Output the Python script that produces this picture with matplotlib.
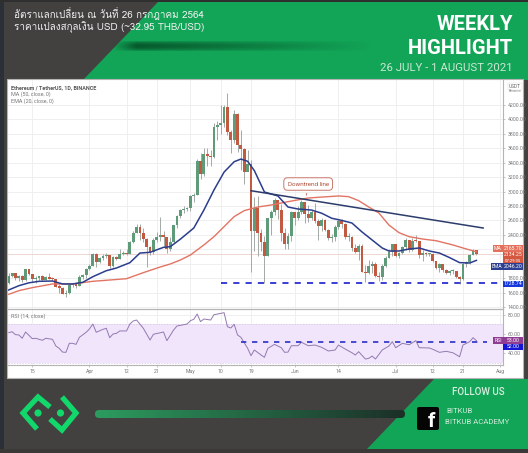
import numpy as np
import matplotlib
matplotlib.use("Agg")
import matplotlib.pyplot as plt
from matplotlib import font_manager as fm
from matplotlib.ft2font import FT2Font
from matplotlib.patches import Polygon, Rectangle, FancyBboxPatch, Circle

# ---- daily candles: day number counted from 1 March 2021 ----
first_day = 7
opens = [1730, 1835, 1870, 1795, 1825, 1770, 1925, 1855, 1793, 1806, 1823, 1780, 1810, 1787, 1783, 1680, 1670, 1585, 1590, 1700, 1715, 1690, 1815, 1846,
         1920, 1970, 2135, 2025, 2080, 2110, 2115, 1965, 2090, 2070, 2135, 2150, 2140, 2300, 2430, 2515, 2420, 2345, 2235, 2165, 2330, 2365, 2400, 2365, 2210, 2300, 2530, 2660, 2745, 2755,
         2775, 2945, 2950, 3430, 3240, 3520, 3490, 3480, 3900, 3925, 3950, 4170, 3825, 3715, 4080, 3640, 3590, 3270, 3380, 2450, 2770, 2420, 2300, 2100, 2640, 2710, 2880, 2750, 2420, 2280, 2390,
         2710, 2630, 2710, 2855, 2690, 2630, 2715, 2590, 2520, 2610, 2470, 2355, 2370, 2510, 2590, 2550, 2365, 2370, 2220, 2165, 2245, 1890, 1875, 1965, 1990, 1830, 1815, 1975, 2085, 2160,
         2275, 2110, 2150, 2225, 2325, 2195, 2320, 2315, 2115, 2150, 2135, 2140, 2035, 1940, 1995, 1915, 1875, 1895, 1895, 1815, 1785, 1995, 2025, 2125, 2190]
highs = [1870, 1875, 1870, 1840, 1840, 1930, 1930, 1860, 1830, 1835, 1840, 1835, 1870, 1810, 1790, 1725, 1680, 1630, 1710, 1735, 1730, 1840, 1860, 1945,
         1990, 2150, 2145, 2095, 2130, 2155, 2120, 2100, 2105, 2200, 2170, 2200, 2320, 2450, 2550, 2550, 2500, 2360, 2250, 2350, 2440, 2645, 2450, 2350, 2370, 2540, 2680, 2760, 2800, 2790,
         2950, 2980, 3450, 3530, 3600, 3600, 3580, 3950, 3980, 4200, 4200, 4370, 3860, 4130, 4090, 3850, 3600, 3570, 3440, 2920, 2940, 2480, 2390, 2640, 2750, 2910, 2880, 2830, 2490, 2430, 2730,
         2720, 2800, 2890, 2860, 2820, 2740, 2840, 2620, 2630, 2620, 2480, 2410, 2530, 2620, 2620, 2560, 2420, 2380, 2280, 2270, 2270, 1980, 2050, 2040, 2030, 1880, 1990, 2105, 2200, 2280,
         2280, 2160, 2240, 2350, 2330, 2350, 2400, 2320, 2190, 2160, 2150, 2150, 2040, 2005, 1990, 1930, 1915, 1920, 1895, 1825, 2010, 2040, 2130, 2200, 2195]
lows = [1725, 1820, 1775, 1760, 1750, 1755, 1840, 1740, 1730, 1770, 1760, 1775, 1785, 1760, 1675, 1600, 1575, 1545, 1585, 1680, 1670, 1685, 1790, 1800,
        1910, 1965, 1955, 2010, 2050, 2080, 1945, 1955, 2045, 2060, 2115, 2120, 2130, 2290, 2430, 2330, 2300, 1950, 2115, 2135, 2295, 2310, 2240, 2150, 2180, 2290, 2500, 2640, 2700, 2730,
        2730, 2850, 2950, 3170, 3220, 3360, 3350, 3460, 3720, 3800, 3900, 3790, 3530, 3680, 3550, 3300, 3100, 3280, 1890, 2170, 2107, 2170, 1728.74, 2100, 2400, 2680, 2620, 2320, 2200, 2210, 2320,
        2540, 2600, 2690, 2560, 2580, 2600, 2570, 2330, 2450, 2450, 2330, 2300, 2320, 2480, 2500, 2340, 2320, 2180, 2150, 2050, 1880, 1750, 1860, 1870, 1810, 1760, 1780, 1950, 2080, 2110,
        2090, 2085, 2130, 2190, 2160, 2180, 2300, 2080, 2040, 2100, 2100, 2020, 1925, 1885, 1890, 1860, 1850, 1860, 1800, 1716, 1780, 1960, 2000, 2120, 2125]
closes = [1835, 1870, 1795, 1825, 1770, 1925, 1855, 1793, 1806, 1823, 1780, 1810, 1787, 1783, 1680, 1670, 1585, 1590, 1700, 1715, 1690, 1815, 1846, 1920,
          1970, 2135, 2025, 2080, 2110, 2115, 1965, 2090, 2070, 2135, 2150, 2140, 2300, 2430, 2515, 2420, 2345, 2235, 2165, 2330, 2365, 2400, 2365, 2210, 2300, 2530, 2660, 2745, 2755, 2775,
          2945, 2950, 3430, 3240, 3520, 3490, 3480, 3900, 3925, 3950, 4170, 3825, 3715, 4080, 3640, 3590, 3270, 3380, 2450, 2770, 2420, 2300, 2100, 2640, 2710, 2880, 2750, 2420, 2280, 2390, 2710,
          2630, 2710, 2855, 2690, 2630, 2715, 2590, 2520, 2610, 2470, 2355, 2370, 2510, 2590, 2550, 2365, 2370, 2220, 2165, 2245, 1890, 1875, 1965, 1990, 1830, 1815, 1975, 2085, 2160, 2275,
          2110, 2150, 2225, 2325, 2195, 2320, 2315, 2115, 2150, 2135, 2140, 2035, 1940, 1995, 1915, 1875, 1895, 1895, 1815, 1785, 1995, 2025, 2125, 2190, 2134.25]

# fast average (blue) and slow average (red)
blue_days = [7, 10, 13, 16, 20, 23, 26, 29, 32, 36, 39, 43, 46, 49, 53, 55, 58, 62, 65, 68, 71, 74, 76, 78, 80, 83, 87, 90, 93, 97, 100, 103, 106, 109, 112, 115, 118, 120, 123, 126, 129, 132, 135, 138, 141, 144, 146]
blue_vals = [1636, 1695, 1735, 1756, 1760, 1719, 1719, 1742, 1820, 1903, 1940, 2014, 2148, 2158, 2227, 2236, 2340, 2495, 2744, 3022, 3270, 3414, 3451, 3420, 3290, 2994, 2939, 2786, 2758, 2744, 2700, 2630, 2600, 2564, 2440, 2329, 2218, 2176, 2176, 2204, 2218, 2176, 2148, 2085, 2015, 2010, 2046.2]
red_days = [7, 10, 14, 20, 26, 32, 37, 42, 47, 52, 55, 58, 61, 65, 68, 71, 74, 77, 81, 85, 90, 96, 102, 105, 108, 111, 114, 117, 120, 123, 126, 130, 134, 139, 143, 146]
red_vals = [1576, 1626, 1668, 1719, 1719, 1756, 1774, 1792, 1876, 1954, 1996, 2051, 2121, 2260, 2375, 2514, 2653, 2736, 2786, 2814, 2860, 2911, 2930, 2939, 2930, 2874, 2786, 2703, 2536, 2430, 2375, 2342, 2319, 2260, 2204, 2165.7]

# drawn levels
trend_days = [79, 148]
trend_vals = [3012, 2495]
support_price = 1728.74
support_days = [70, 153]
rsi_level = 52.0
rsi_level_days = [76, 149]

rsi_days = [7, 8, 9, 10, 11, 12, 14, 15, 17, 18, 20, 21, 22, 23, 24, 25, 26, 27, 28, 30, 31, 32, 33, 35, 36, 37, 38, 39, 40, 42, 43, 44, 45, 47, 49, 50, 53, 54, 56, 57, 60, 61, 62, 63, 64, 65, 67, 68, 71, 72, 73, 74, 75, 76, 78, 79, 80, 82, 83, 84, 86, 88, 89, 90, 91, 93, 94, 96, 98, 100, 102, 104, 105, 107, 109, 110, 111, 113, 114, 115, 116, 118, 120, 121, 122, 124, 126, 128, 129, 132, 133, 135, 137, 139, 141, 142, 144, 145, 146]
rsi_vals = [61.4, 62.4, 59.3, 59, 55.5, 62.1, 55.1, 55.5, 53.4, 55.5, 54.4, 47.4, 44.9, 41, 40.7, 50.2, 50.2, 49.1, 56.5, 61.8, 65.3, 70.5, 61.8, 64.9, 66, 56.1, 60, 60.7, 63.2, 63.2, 70.5, 73.7, 74.7, 66, 53.7, 59.7, 62.1, 53, 64.2, 68.4, 70.5, 74, 75.5, 81, 73, 75.8, 74.7, 80.3, 82.4, 67.7, 66.3, 70.2, 59, 56.5, 45, 37.2, 43.2, 37.9, 35.5, 44.9, 49.1, 45.6, 40.7, 41, 47.7, 47.7, 51.3, 47.7, 48.4, 46, 42.1, 43.2, 48.4, 44.2, 40.3, 37.9, 41.4, 33.7, 34.4, 36.8, 33.7, 43.2, 47.4, 51.9, 45.6, 50.2, 48.7, 53, 45.6, 45.3, 44, 40.7, 41.8, 40.3, 36.1, 48.4, 51.9, 56.1, 53]

# scale labels; 2000 and 2200 sit behind the value tags, so they stay unlabelled
price_ticks = list(range(1400, 4400, 200))
price_labels = ["" if v in (2000, 2200) else f"{v:.2f}" for v in price_ticks]
rsi_ticks = [40, 60, 80]
date_ticks = [14, 31, 42, 51, 61, 70, 79, 92, 105, 122, 133, 142, 153]
date_labels = ["15", "Apr", "12", "21", "May", "10", "19", "Jun", "14", "Jul", "12", "21", "Aug"]

title_lines = ["อัตราแลกเปลี่ยน ณ วันที่ 26 กรกฎาคม 2564", "ราคาแปลงสกุลเงิน USD (~32.95 THB/USD)"]
week_label = "26 JULY - 1 AUGUST 2021"
legend_lines = ["Ethereum / TetherUS, 1D, BINANCE", "MA (50, close, 0)", "EMA (20, close, 0)"]

W, H = 528, 453
DARK = "#434040"
GREEN = "#12a457"


def thai_capable_family():
    """Name of an installed family that carries Thai glyphs, if there is one."""
    for entry in fm.fontManager.ttflist:
        try:
            if 0x0E2D in FT2Font(entry.fname).get_charmap():
                return entry.name
        except Exception:
            continue
    return None


thai_family = thai_capable_family()
title_family = [thai_family, "Roboto"] if thai_family else ["Roboto"]

fig = plt.figure(figsize=(W / 100, H / 100), dpi=100, facecolor=DARK)


def axes_px(left, top, right, bottom, **kw):
    return fig.add_axes([left / W, 1 - bottom / H, (right - left) / W, (bottom - top) / H], **kw)


# ---- page furniture, in pixel coordinates ----
page = axes_px(0, 0, W, H)
page.set_xlim(0, W)
page.set_ylim(H, 0)
page.axis("off")

page.add_patch(Rectangle((0, 0), 4, H, color="#2b3036", lw=0))
page.add_patch(Rectangle((0, 0), W, 2, color="#2f2f2f", lw=0))
page.add_patch(Rectangle((0, 449), W, 4, color="#3a3938", lw=0))
page.add_patch(Polygon([(158, 2), (W, 2), (W, 80), (83, 80)], closed=True, color=GREEN, lw=0))

# dark swoosh across the green band
sw = np.zeros((12, 260, 4))
sw[..., :3] = matplotlib.colors.to_rgb("#07592c")
fade_x = np.concatenate([np.linspace(0, 1, 25), np.linspace(1, 0, 235)])
fade_y = np.sin(np.linspace(0, np.pi, 12)) ** 0.8
sw[..., 3] = np.outer(fade_y, fade_x)
page.imshow(sw, extent=(112, 372, 52, 40), aspect="auto", interpolation="bilinear", zorder=1)

# footer wedge
page.add_patch(Polygon([(434, 379), (W, 379), (W, 449), (367, 449)], closed=True, color=GREEN, lw=0, zorder=1))

# footer progress bar with a fading fill
bar_rgb = np.array([np.linspace(c0, c1, 300) for c0, c1 in zip(matplotlib.colors.to_rgb("#2c9c5f"), matplotlib.colors.to_rgb("#1c2f28"))]).T
bar_img = page.imshow(bar_rgb[None, :, :], extent=(95, 405, 418, 410), aspect="auto", zorder=1)
bar_clip = FancyBboxPatch((95, 410), 310, 8, boxstyle="round,pad=0,rounding_size=4", transform=page.transData, fc="none", ec="none")
page.add_patch(bar_clip)
bar_img.set_clip_path(bar_clip)
page.set_xlim(0, W)
page.set_ylim(H, 0)

# logo
LOGO = "#12d76b"
page.plot([37, 23, 38, 50], [429, 413, 397, 407], color=LOGO, lw=3.8, solid_joinstyle="miter", solid_capstyle="butt", zorder=2)
page.plot([62, 76, 62, 50], [397, 413, 430, 419], color=LOGO, lw=3.8, solid_joinstyle="miter", solid_capstyle="butt", zorder=2)
page.add_patch(Circle((38, 413), 3.6, color=LOGO, lw=0, zorder=2))
page.add_patch(Circle((60.5, 413), 3.6, color=LOGO, lw=0, zorder=2))

# social block
page.add_patch(FancyBboxPatch((417, 407), 22, 23, boxstyle="round,pad=0,rounding_size=2", fc="#050505", ec="none", zorder=2))
page.text(431, 431, "f", color="white", fontsize=15, fontweight="bold", family="Roboto", ha="center", va="bottom", zorder=3)
page.text(478, 392, "FOLLOW US", color="#d9efe0", fontsize=7, family="Roboto", fontweight="medium", ha="center", va="center", zorder=3)
page.text(446, 411, "BITKUB", color="#d0ecd9", fontsize=5.6, family="Roboto", ha="left", va="center", zorder=3)
page.text(445, 422, "BITKUB ACADEMY", color="#d0ecd9", fontsize=5.6, family="Roboto", ha="left", va="center", zorder=3)

# header text
page.text(14, 14, title_lines[0], color="#f2f2f2", fontsize=7.1, family=title_family, ha="left", va="center", zorder=3)
page.text(14, 27, title_lines[1], color="#f2f2f2", fontsize=7.1, family=title_family, ha="left", va="center", zorder=3)
page.text(513, 25, "WEEKLY", color="white", fontsize=14.5, family="Roboto", fontweight="bold", ha="right", va="center", zorder=3)
page.text(513, 48, "HIGHLIGHT", color="white", fontsize=14.5, family="Roboto", fontweight="bold", ha="right", va="center", zorder=3)
page.text(513, 68, week_label, color="#c9e8d4", fontsize=8.2, family="Roboto", ha="right", va="center", zorder=3)

# white chart card
page.add_patch(Rectangle((7, 79), 515.5, 298.5, fc="white", ec="#b4b4b4", lw=0.8, zorder=2))

# ---- price pane ----
GRID = "#efefef"
TICK = "#777777"
ax = axes_px(8, 80, 503, 309, facecolor="none")
ax.set_xlim(6.78, 153.9)
ax.set_ylim(1372, 4547)
ax.set_axisbelow(True)
ax.set_xticks(date_ticks)
ax.set_yticks(price_ticks)
ax.grid(True, color=GRID, lw=0.7)
ax.yaxis.tick_right()
ax.tick_params(axis="y", length=1.5, width=0.4, color="#999999", labelsize=3.7, labelcolor=TICK, pad=2)
ax.tick_params(axis="x", length=0, labelbottom=False)
ax.set_yticklabels(price_labels, family="Roboto")
for side, sp in ax.spines.items():
    sp.set_visible(side in ("right", "bottom"))
    sp.set_color("#b4b4b4")
    sp.set_linewidth(0.8)

days = first_day + np.arange(len(closes))
o, h, l, c = map(np.array, (opens, highs, lows, closes))
rising = c >= o
body_colors = np.where(rising, "#5f9b78", "#c25a42")
ax.axhline(closes[-1], color="#ead0c8", lw=0.6, zorder=1)
ax.vlines(days, l, h, color="#a3aaa6", lw=0.7, zorder=2)
ax.bar(days, np.maximum(np.abs(c - o), 14), bottom=np.minimum(o, c), width=0.84, color=body_colors, lw=0, zorder=3)

ax.plot(red_days, red_vals, color="#e27464", lw=1.0, zorder=4)
ax.plot(blue_days, blue_vals, color="#2b3d8c", lw=1.1, zorder=4)
ax.plot(trend_days, trend_vals, color="#2c3c6c", lw=1.1, zorder=5)
ax.plot(support_days, [support_price] * 2, color="#2a2fd0", lw=1.3, dashes=(3.4, 3.4), zorder=5)

ax.annotate("Downtrend line", xy=(95.3, 2911), xytext=(96, 3105), ha="center", va="center",
            fontsize=4.5, color="#b0503c", family="Roboto", zorder=6,
            bbox=dict(boxstyle="round,pad=0.6", fc="white", ec="#c9786a", lw=0.7),
            arrowprops=dict(arrowstyle="-", color="#c9786a", lw=0.7))

# ---- RSI pane ----
rx = axes_px(8, 309, 503, 365, facecolor="none")
rx.set_xlim(6.78, 153.9)
rx.set_ylim(27.4, 86.3)
rx.set_axisbelow(True)
rx.set_xticks(date_ticks)
rx.set_xticklabels(date_labels, family="Roboto")
rx.set_yticks(rsi_ticks)
rx.set_yticklabels([f"{v:.2f}" for v in rsi_ticks], family="Roboto")
rx.yaxis.tick_right()
rx.grid(True, color=GRID, lw=0.7)
rx.tick_params(axis="y", length=1.5, width=0.4, color="#999999", labelsize=3.7, labelcolor=TICK, pad=2)
rx.tick_params(axis="x", length=1.5, width=0.4, color="#999999", labelsize=3.7, labelcolor=TICK, pad=1.5)
for side, sp in rx.spines.items():
    sp.set_visible(side in ("right", "bottom", "top"))
    sp.set_color("#b4b4b4")
    sp.set_linewidth(0.8)
rx.axhspan(30, 70, fc="#f0e5fb", lw=0, zorder=1)
for lvl in (30, 70):
    rx.axhline(lvl, color="#d3c2e3", lw=0.5, dashes=(2, 2), zorder=2)
rx.plot(rsi_days, rsi_vals, color="#9379b0", lw=0.7, zorder=3)
rx.plot(rsi_level_days, [rsi_level] * 2, color="#2a2fc8", lw=1.2, dashes=(3.2, 3.4), zorder=4)

# ---- text and value tags over the panes ----
top = axes_px(0, 0, W, H, facecolor="none")
top.set_xlim(0, W)
top.set_ylim(H, 0)
top.axis("off")
top.text(11, 87.5, legend_lines[0], fontsize=3.9, color="#555555", family="Roboto", fontweight="bold", va="center")
top.text(11, 94.5, legend_lines[1], fontsize=3.9, color="#777777", family="Roboto", va="center")
top.text(11, 101, legend_lines[2], fontsize=3.9, color="#777777", family="Roboto", va="center")
top.text(11, 316, "RSI (14, close)", fontsize=3.9, color="#777777", family="Roboto", va="center")
top.text(515, 86.5, "USDT", fontsize=3.4, color="#666666", family="Roboto", ha="center", va="center",
         bbox=dict(boxstyle="square,pad=0.25", fc="white", ec="#dddddd", lw=0.3))
top.text(515, 90.7, "Binance", fontsize=2.6, color="#888888", family="Roboto", ha="center", va="center")


def tag(x0, x1, y0, y1, color, label, text_color="white", size=3.7):
    top.add_patch(Rectangle((x0, y0), x1 - x0, y1 - y0, fc=color, ec="none"))
    top.text((x0 + x1) / 2, (y0 + y1) / 2, label, fontsize=size, color=text_color, family="Roboto",
             ha="center", va="center")


tag(493, 503, 245, 252, "#e4705c", "MA")
tag(503, 523, 245, 252, "#e4705c", "2165.70")
tag(503, 523, 252, 258, "#d5573f", "2134.25")
tag(503, 523, 258, 263, "#d5573f", "07:29:35", size=3.1)
tag(491, 503, 263, 269.5, "#2c3f90", "EMA")
tag(503, 523, 263, 269.5, "#2c3f90", "2046.20")
tag(503, 523, 280.5, 287, "#1537dc", "1728.74")
tag(493, 503, 337, 343.5, "#8f3d92", "RSI")
tag(503, 523, 337, 343.5, "#8f3d92", "53.00")
tag(503, 523, 344, 350, "#1515d6", "52.00")

fig.savefig("out.png", dpi=100, facecolor=fig.get_facecolor())
